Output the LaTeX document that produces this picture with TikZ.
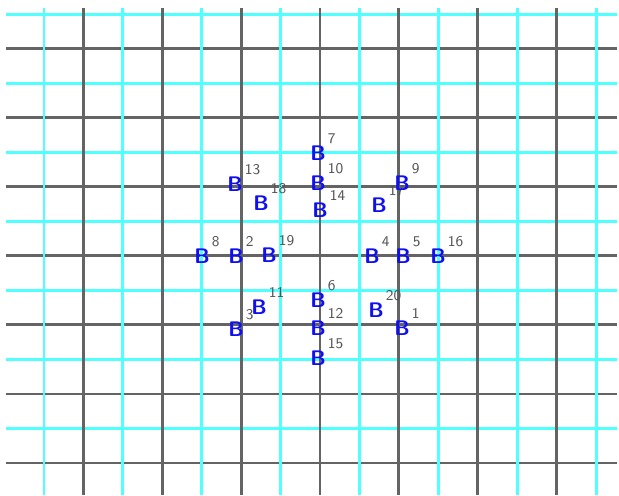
\documentclass[tikz,border=0pt]{standalone}
\usepackage{xcolor}
\usepackage{tikz}
\usetikzlibrary{positioning}
\definecolor{gridcyan}{RGB}{80,255,255}
\definecolor{griddark}{RGB}{100,100,100}
\definecolor{markblue}{RGB}{15,15,240}
\definecolor{numgray}{RGB}{85,85,85}
\tikzset{
  cyanline/.style={draw=gridcyan, line width=1.7pt},
  darkline/.style={draw=griddark, line width=1.6pt},
  bmark/.style={inner sep=0.5pt, text=markblue,
    font=\fontsize{12}{12}\selectfont\sffamily\bfseries},
  numlbl/.style={inner sep=0.3pt, text=numgray,
    font=\fontsize{8.5}{8.5}\selectfont\sffamily}
}

\begin{document}
\begin{tikzpicture}[x=0.02cm, y=-0.02cm]
  \useasboundingbox (0,0) rectangle (619,495);
  \foreach \j in {0,...,13} {
    \pgfmathsetmacro{\yy}{14+34.54*\j}
    \ifodd\j
      \draw[darkline] (6,\yy) -- (617,\yy);
    \else
      \draw[cyanline] (6,\yy) -- (617,\yy);
    \fi
  }
  \foreach \i in {0,...,14} {
    \pgfmathsetmacro{\xx}{44+39.43*\i}
    \ifodd\i
      \draw[darkline] (\xx,8) -- (\xx,495);
    \else
      \draw[cyanline] (\xx,8) -- (\xx,495);
    \fi
  }
  \foreach \x/\y/\n in {379/205/17, 402/328/1, 236/256/2, 236/329/3,
      372/256/4, 403/256/5, 318/300/6, 318/153/7, 202/256/8, 402/183/9,
      318/183/10, 259/307/11, 318/328/12, 235/184/13, 320/210/14,
      318/358/15, 438/256/16, 261/203/18, 269/255/19, 376/310/20}
    \node[bmark, label={[numlbl, label distance=0pt]north east:\n}] (b\n) at (\x,\y) {B};
\end{tikzpicture}
\end{document}
